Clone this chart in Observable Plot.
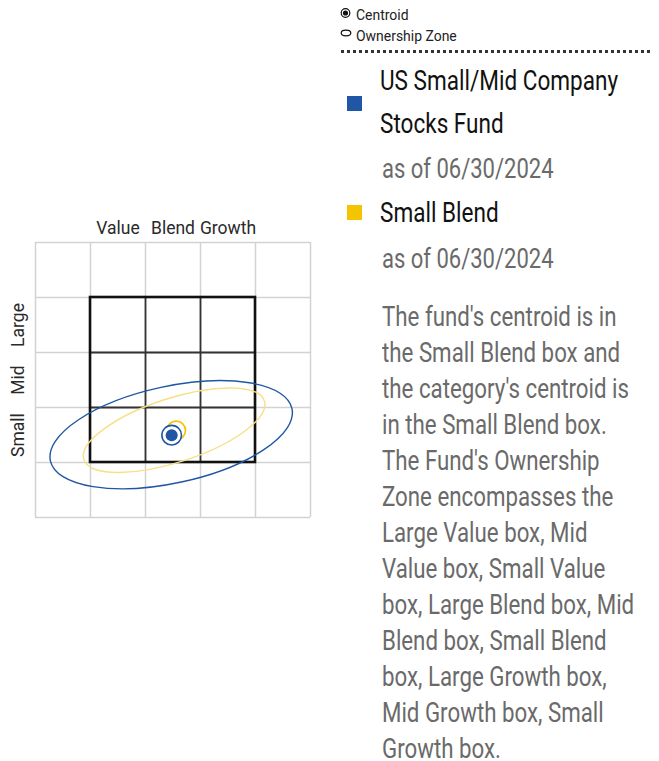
<!DOCTYPE html>
<html>
<head>
<meta charset="utf-8">
<script src="https://cdn.jsdelivr.net/npm/d3@7"></script>
<script src="https://cdn.jsdelivr.net/npm/@observablehq/plot@0.6"></script>
<style>
  html, body { margin: 0; padding: 0; background: #fff; }
  body { width: 659px; height: 761px; position: relative; overflow: hidden;
         font-family: Roboto, sans-serif; }
  #chart { position: absolute; left: 0; top: 200px; }
  .abs { position: absolute; white-space: nowrap; transform-origin: left top; }
  .legend { font-size: 15.5px; color: #222; line-height: 22px; transform: scaleX(0.9); }
  .dots { position: absolute; left: 341px; top: 50px; width: 310px; height: 3px;
          background: repeating-linear-gradient(to right, #333 0 3px, transparent 3px 6px); }
  .swatch { position: absolute; width: 15px; height: 15px; }
  .name { font-size: 27px; color: #111; line-height: 43px; transform: scaleX(0.835); }
  .date { font-size: 27px; color: #6a6a6a; line-height: 43px; transform: scaleX(0.815); }
  .para { font-size: 27px; color: #6a6a6a; transform: scaleX(0.825); }
  .para div { line-height: 20px; height: 20px; margin-bottom: 16px; }
  .para div:last-child { margin-bottom: 0; }
</style>
</head>
<body>
<div id="chart"></div>
<div id="side"></div>
<script>
// ---- data ----
const styleColumns = ["Value", "Blend", "Growth"];
const styleColumnScores = [50, 150, 250];
const sizeRows = ["Large", "Mid", "Small"];
const sizeRowScores = [250, 150, 50];
const gridScores = [-100, 0, 100, 200, 300, 400];
const boxInnerScores = [100, 200];

const seriesNames = ["US Small/Mid Company Stocks Fund", "Small Blend"];
const seriesNameLines = [["US Small/Mid Company", "Stocks Fund"], ["Small Blend"]];
const seriesDates = ["as of 06/30/2024", "as of 06/30/2024"];
const seriesColors = ["#1f56a5", "#f5c400"];
const zoneColors = ["#1f56a5", "#f8df86"];

const centroidValueScore = [147.6, 155.8];
const centroidSizeScore = [49.6, 58.2];
const zoneValueScore = [147.6, 153.0];
const zoneSizeScore = [49.6, 57.8];
const zoneMajorRadius = [224.7, 172.5];
const zoneMinorRadius = [88.0, 58.2];
const zoneAngleDeg = [12.2, 18.0];

const legendLabels = ["Centroid", "Ownership Zone"];
const summaryLines = [
  "The fund's centroid is in",
  "the Small Blend box and",
  "the category's centroid is",
  "in the Small Blend box.",
  "The Fund's Ownership",
  "Zone encompasses the",
  "Large Value box, Mid",
  "Value box, Small Value",
  "box, Large Blend box, Mid",
  "Blend box, Small Blend",
  "box, Large Growth box,",
  "Mid Growth box, Small",
  "Growth box."
];

// ---- tables built from the arrays ----
const zones = seriesNames.map((s, i) => ({
  series: s, cx: zoneValueScore[i], cy: zoneSizeScore[i],
  major: zoneMajorRadius[i], minor: zoneMinorRadius[i], angle: zoneAngleDeg[i], color: zoneColors[i]
}));
const centroids = seriesNames.map((s, i) => ({ series: s, x: centroidValueScore[i], y: centroidSizeScore[i] }));
const cols = styleColumns.map((c, i) => ({ label: c, x: styleColumnScores[i] }));
const rows = sizeRows.map((r, i) => ({ label: r, y: sizeRowScores[i] }));

// custom ellipse mark drawn through Plot's scales
function ownershipZones(data) {
  return (index, scales) => {
    const g = d3.create("svg:g").attr("fill", "none");
    for (const d of data) {
      const cx = scales.x(d.cx), cy = scales.y(d.cy);
      const rx = Math.abs(scales.x(d.cx + d.major) - cx);
      const ry = Math.abs(scales.y(d.cy + d.minor) - cy);
      g.append("ellipse")
        .attr("cx", cx).attr("cy", cy).attr("rx", rx).attr("ry", ry)
        .attr("transform", `rotate(${-d.angle} ${cx} ${cy})`)
        .attr("stroke", d.color).attr("stroke-width", 1.4);
    }
    return g.node();
  };
}

const plot = Plot.plot({
  width: 330,
  height: 330,
  marginLeft: 35,
  marginRight: 20,
  marginTop: 42,
  marginBottom: 13,
  x: { domain: [-100, 400], axis: null },
  y: { domain: [-100, 400], axis: null },
  style: { background: "white", overflow: "visible", fontFamily: "Roboto, sans-serif" },
  marks: [
    Plot.ruleX(gridScores, { y1: -100, y2: 400, stroke: "#d2d2d2", strokeWidth: 1.5 }),
    Plot.ruleY(gridScores, { x1: -100, x2: 400, stroke: "#d2d2d2", strokeWidth: 1.5 }),
    Plot.ruleX(boxInnerScores, { y1: 0, y2: 300, stroke: "#333", strokeWidth: 1.8 }),
    Plot.ruleY(boxInnerScores, { x1: 0, x2: 300, stroke: "#333", strokeWidth: 1.8 }),
    Plot.rect([{}], { x1: 0, x2: 300, y1: 0, y2: 300, fill: "none", stroke: "#111", strokeWidth: 2.6 }),
    ownershipZones(zones),
    Plot.dot(centroids.slice(1), { x: "x", y: "y", r: 9.3, fill: "none", stroke: seriesColors[1], strokeWidth: 1.7 }),
    Plot.dot(centroids.slice(0, 1), { x: "x", y: "y", r: 9.8, fill: "white", stroke: seriesColors[0], strokeWidth: 1.6 }),
    Plot.dot(centroids.slice(0, 1), { x: "x", y: "y", r: 6, fill: seriesColors[0], stroke: "none" }),
    Plot.text(cols, { x: "x", y: 400, text: "label", dy: -14, fontSize: 17.5, fill: "#2a2a2a" }),
    Plot.text(rows, { x: -100, y: "y", text: "label", dx: -17, rotate: -90, fontSize: 17.5, fill: "#2a2a2a" })
  ]
});
document.getElementById("chart").appendChild(plot);

// ---- right-hand legend and summary ----
const side = document.getElementById("side");
function add(html) { side.insertAdjacentHTML("beforeend", html); }

add(`<svg class="abs" style="left:338px;top:5px" width="16" height="36">
  <circle cx="7.5" cy="8" r="4.3" fill="white" stroke="#111" stroke-width="1.2"/>
  <circle cx="7.5" cy="8" r="2.6" fill="#111"/>
  <ellipse cx="8" cy="28" rx="4.8" ry="2.8" fill="none" stroke="#111" stroke-width="1.2"/>
</svg>`);
add(`<div class="abs legend" style="left:356px;top:4px">${legendLabels[0]}</div>`);
add(`<div class="abs legend" style="left:356px;top:25px">${legendLabels[1]}</div>`);
add(`<div class="dots"></div>`);

add(`<div class="swatch" style="left:347px;top:96px;background:${seriesColors[0]}"></div>`);
add(`<div class="abs name" style="left:380px;top:60px">${seriesNameLines[0].join("<br>")}</div>`);
add(`<div class="abs date" style="left:382px;top:148px">${seriesDates[0]}</div>`);
add(`<div class="swatch" style="left:347px;top:205px;background:${seriesColors[1]}"></div>`);
add(`<div class="abs name" style="left:380px;top:192px">${seriesNameLines[1].join("<br>")}</div>`);
add(`<div class="abs date" style="left:382px;top:238px">${seriesDates[1]}</div>`);
add(`<div class="abs para" style="left:382px;top:307px">${summaryLines.map(l => `<div>${l}</div>`).join("")}</div>`);
</script>
</body>
</html>
